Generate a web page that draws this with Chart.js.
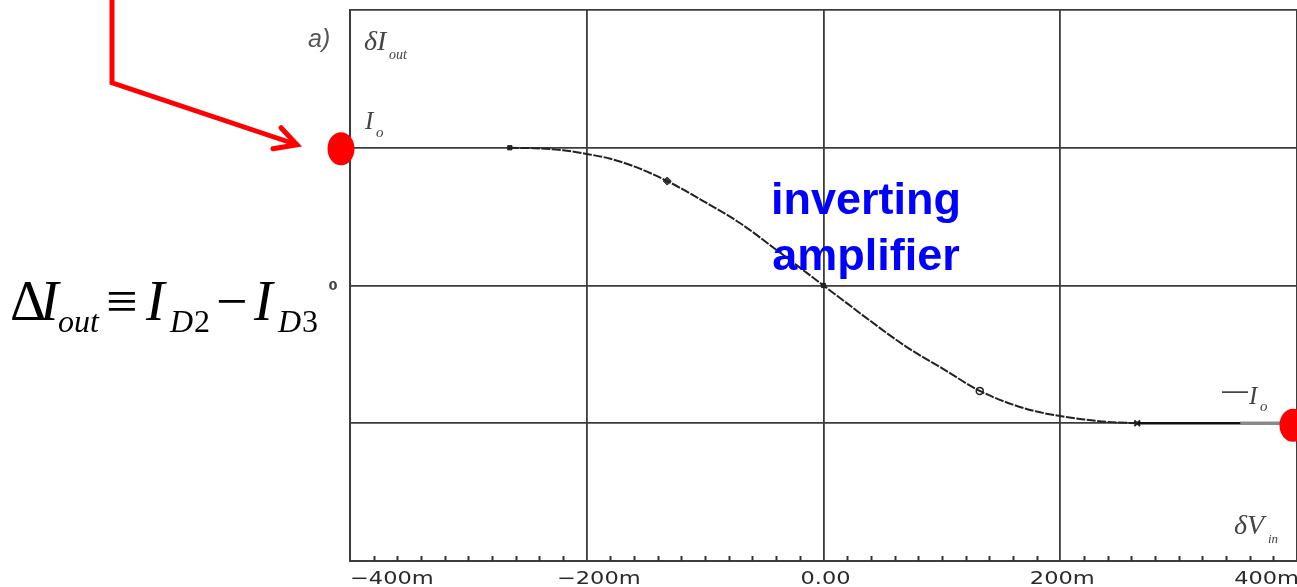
<!DOCTYPE html>
<html>
<head>
<meta charset="utf-8">
<script src="https://cdn.jsdelivr.net/npm/chart.js@4.4.1/dist/chart.umd.min.js"></script>
<style>
html,body{margin:0;padding:0;background:#fff;overflow:hidden;width:1297px;height:587px;}
#wrap{width:1303px;height:587px;}
</style>
</head>
<body>
<div id="wrap"><canvas id="c" width="1303" height="587"></canvas></div>
<script>
// ---- data (δVin in mV, ΔIout in units of Io) ----
const curveX = [-265,-240,-220,-200,-180,-160,-132,-100,-70,-40,-20,0,20,40,70,100,132,160,180,200,220,240,265];
const curveY = [1.0,0.995,0.982,0.955,0.92,0.865,0.758,0.605,0.45,0.26,0.13,0,-0.13,-0.26,-0.445,-0.60,-0.765,-0.865,-0.915,-0.948,-0.972,-0.99,-1.0];
const tailX = [265,352];
const tailY = [-1.0,-1.0];
const tailGrayX = [352,400];
const tailGrayY = [-1.0,-1.0];
const markerX = [-265,-132,0,132,265];
const markerY = [1.0,0.758,0,-0.765,-1.0];
const xTickValues = [-400,-200,0,200,400];
const xTickLabels = ["\u2212400m","\u2212200m","0.00","200m","400m"];

const toPts = (xs, ys) => xs.map((x, i) => ({x, y: ys[i]}));

const overlay = {
  id: 'overlay',
  afterDraw(chart) {
    const ctx = chart.ctx;
    const xs = chart.scales.x, ys = chart.scales.y;
    const area = chart.chartArea;
    ctx.save();

    // minor ticks on bottom axis
    ctx.strokeStyle = '#333';
    ctx.lineWidth = 2;
    for (let v = -380; v < 400; v += 20) {
      if (v % 200 === 0) continue;
      const px = Math.round(xs.getPixelForValue(v)) + 0.5;
      ctx.beginPath();
      ctx.moveTo(px, area.bottom);
      ctx.lineTo(px, area.bottom - 5);
      ctx.stroke();
    }

    // x tick labels
    ctx.fillStyle = '#2a2a2a';
    ctx.font = '18px "DejaVu Sans"';
    ctx.textBaseline = 'alphabetic';
    const sx = 1.25;
    xTickValues.forEach((v, i) => {
      const px = xs.getPixelForValue(v);
      const w = ctx.measureText(xTickLabels[i]).width * sx;
      let left;
      if (i === 0) left = px;
      else if (i === xTickValues.length - 1) left = px - w + 2;
      else left = px - w / 2 + (v < 0 ? 12 : 2);
      ctx.save();
      ctx.translate(left, area.bottom + 23);
      ctx.scale(sx, 1);
      ctx.textAlign = 'left';
      ctx.fillText(xTickLabels[i], 0, 0);
      ctx.restore();
    });

    // y "0" label
    ctx.fillStyle = '#444';
    ctx.font = 'bold 13px "DejaVu Sans"';
    ctx.textAlign = 'center';
    ctx.fillText('0', area.left - 17, ys.getPixelForValue(0) + 4);

    // "a)"
    ctx.fillStyle = '#555';
    ctx.font = 'italic 25px "Liberation Sans"';
    ctx.textAlign = 'left';
    ctx.fillText('a)', area.left - 42, area.top + 37);

    // δI_out
    ctx.fillStyle = '#444';
    ctx.font = 'italic 28px "Liberation Serif"';
    ctx.fillText('\u03B4I', area.left + 14, area.top + 40);
    ctx.font = 'italic 14px "Liberation Serif"';
    ctx.fillText('out', area.left + 39, area.top + 49);

    // I_o
    const yIo = ys.getPixelForValue(1);
    ctx.font = 'italic 25px "Liberation Serif"';
    ctx.fillText('I', area.left + 15, yIo - 19);
    ctx.font = 'italic 15px "Liberation Serif"';
    ctx.fillText('o', area.left + 26, yIo - 11);

    // −I_o
    const yMIo = ys.getPixelForValue(-1);
    ctx.font = '26px "Liberation Sans"';
    ctx.fillText('\u2014', 1222, yMIo - 24);
    ctx.font = 'italic 25px "Liberation Serif"';
    ctx.fillText('I', 1249, yMIo - 19);
    ctx.font = 'italic 15px "Liberation Serif"';
    ctx.fillText('o', 1260, yMIo - 12);

    // δV_in
    ctx.font = 'italic 28px "Liberation Serif"';
    ctx.fillText('\u03B4V', 1234, area.bottom - 27);
    ctx.font = 'italic 13px "Liberation Serif"';
    ctx.fillText('in', 1268, area.bottom - 18);

    // blue annotation
    ctx.fillStyle = '#0000ff';
    ctx.font = 'bold 45px "Liberation Sans"';
    ctx.textAlign = 'center';
    ctx.fillText('inverting', 866, 214);
    ctx.fillText('amplifier', 866, 270);

    // formula
    ctx.fillStyle = '#000';
    ctx.textAlign = 'left';
    ctx.font = '56px "Liberation Serif"';
    ctx.fillText('\u0394', 10, 320);
    ctx.font = 'italic 56px "Liberation Serif"';
    ctx.fillText('I', 40, 320);
    ctx.font = 'italic 32px "Liberation Serif"';
    ctx.fillText('out', 58, 332);
    ctx.font = '56px "Liberation Serif"';
    ctx.fillText('\u2261', 106, 320);
    ctx.font = 'italic 56px "Liberation Serif"';
    ctx.fillText('I', 146, 320);
    ctx.font = 'italic 32px "Liberation Serif"';
    ctx.fillText('D', 170, 332);
    ctx.font = '32px "Liberation Serif"';
    ctx.fillText('2', 194, 332);
    ctx.font = '56px "Liberation Serif"';
    ctx.fillText('\u2212', 216, 320);
    ctx.font = 'italic 56px "Liberation Serif"';
    ctx.fillText('I', 254, 320);
    ctx.font = 'italic 32px "Liberation Serif"';
    ctx.fillText('D', 278, 332);
    ctx.font = '32px "Liberation Serif"';
    ctx.fillText('3', 302, 332);

    // red arrow
    const dLx = xs.getPixelForValue(-400) - 9;
    const dLy = yIo + 1;
    ctx.strokeStyle = '#ff0000';
    ctx.lineWidth = 5;
    ctx.lineJoin = 'miter';
    ctx.lineCap = 'butt';
    ctx.beginPath();
    ctx.moveTo(dLx - 229, -5);
    ctx.lineTo(dLx - 229, dLy - 66);
    ctx.lineTo(dLx - 44, dLy - 4);
    ctx.stroke();
    ctx.beginPath();
    ctx.lineCap = 'round';
    ctx.moveTo(dLx - 60, dLy - 21);
    ctx.lineTo(dLx - 44, dLy - 4);
    ctx.lineTo(dLx - 68, dLy + 0);
    ctx.stroke();

    // red dots
    ctx.fillStyle = '#ff0000';
    ctx.beginPath();
    ctx.ellipse(dLx, dLy, 13.5, 16.5, 0, 0, Math.PI * 2);
    ctx.fill();
    const dRx = xs.getPixelForValue(400) - 4;
    const dRy = yMIo + 2;
    ctx.beginPath();
    ctx.ellipse(dRx, dRy, 13.5, 16.5, 0, 0, Math.PI * 2);
    ctx.fill();

    ctx.restore();
  }
};

new Chart(document.getElementById('c'), {
  type: 'line',
  data: {
    datasets: [
      {
        data: toPts(curveX, curveY),
        borderColor: '#222',
        borderWidth: 2,
        borderDash: [9, 1.5],
        pointRadius: 0,
        cubicInterpolationMode: 'monotone',
        fill: false
      },
      {
        data: toPts(tailX, tailY),
        borderColor: '#111',
        borderWidth: 2.5,
        pointRadius: 0,
        fill: false
      },
      {
        data: toPts(tailGrayX, tailGrayY),
        borderColor: '#8a8a8a',
        borderWidth: 3.5,
        pointRadius: 0,
        fill: false
      },
      {
        data: toPts(markerX, markerY),
        showLine: false,
        pointStyle: ['rect', 'rectRot', 'rect', 'circle', 'crossRot'],
        pointRadius: [3, 4, 3, 3.5, 4],
        pointBackgroundColor: ['#222', '#444', '#222', '#fff', '#222'],
        pointBorderColor: '#222',
        pointBorderWidth: [1, 1, 1, 1.5, 2]
      }
    ]
  },
  options: {
    responsive: false,
    animation: false,
    events: [],
    layout: { padding: { left: 350, top: 10, right: 0, bottom: 26 } },
    plugins: { legend: { display: false }, tooltip: { enabled: false } },
    scales: {
      x: {
        type: 'linear',
        min: -400, max: 400,
        ticks: { display: false, stepSize: 200 },
        grid: { color: '#3c3c3c', lineWidth: 1.8, drawTicks: false },
        border: { display: true, color: '#3c3c3c', width: 2 }
      },
      y: {
        type: 'linear',
        min: -2, max: 2,
        ticks: { display: false, stepSize: 1 },
        grid: { color: '#3c3c3c', lineWidth: 1.8, drawTicks: false },
        border: { display: true, color: '#3c3c3c', width: 2 }
      }
    }
  },
  plugins: [overlay]
});
</script>
</body>
</html>
